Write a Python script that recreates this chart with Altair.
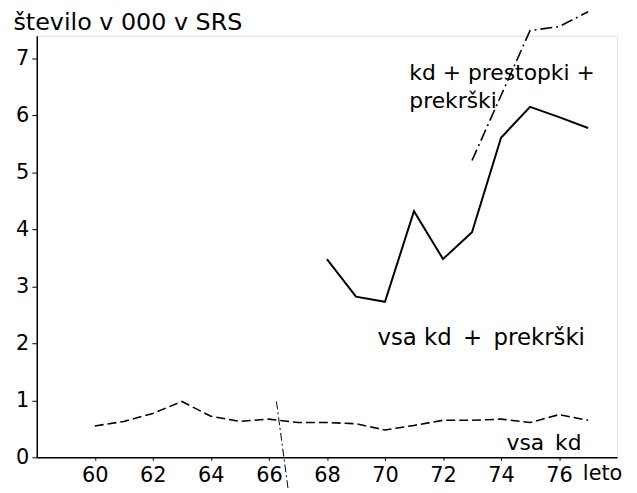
import altair as alt
import pandas as pd

# --- data ---
years_all = [60, 61, 62, 63, 64, 65, 66, 67, 68, 69, 70, 71, 72, 73, 74, 75, 76, 77]
vsa_kd = [0.55, 0.63, 0.77, 0.98, 0.72, 0.63, 0.67, 0.61, 0.61, 0.59, 0.48, 0.56,
          0.65, 0.65, 0.67, 0.61, 0.75, 0.65]

years_kdp = [68, 69, 70, 71, 72, 73, 74, 75, 76, 77]
vsa_kd_prekrski = [3.48, 2.82, 2.73, 4.32, 3.48, 3.95, 5.61, 6.15, 5.97, 5.78]

years_all3 = [73, 74, 75, 76, 77]
kd_prest_prekrski = [5.21, 6.35, 7.49, 7.56, 7.82]

# stray dash-dot stroke near 66 in the original
stroke_x = [66.26, 66.67]
stroke_y = [0.98, -0.59]

x_ticks = [60, 62, 64, 66, 68, 70, 72, 74, 76]
y_ticks = [0, 1, 2, 3, 4, 5, 6, 7]

labels_text = ["kd + prestopki +", "prekrški", "vsa kd\u2002+\u2002prekrški",
               "vsa\u2002kd", "leto"]
labels_x = [70.84, 70.84, 69.74, 74.19, 76.82]
labels_y = [6.62, 6.13, 1.97, 0.12, -0.40]
labels_size = [22, 22, 23, 22, 21]

FONT = "DejaVu Sans"

df1 = pd.DataFrame({"leto": years_all, "v": vsa_kd})
df2 = pd.DataFrame({"leto": years_kdp, "v": vsa_kd_prekrski})
df3 = pd.DataFrame({"leto": years_all3, "v": kd_prest_prekrski})
df4 = pd.DataFrame({"leto": stroke_x, "v": stroke_y})
dft = pd.DataFrame({"t": labels_text, "leto": labels_x, "v": labels_y,
                    "s": labels_size})

xscale = alt.Scale(domain=[58, 78], nice=False, zero=False)
yscale = alt.Scale(domain=[0, 7.4], nice=False)

xaxis = alt.Axis(values=x_ticks, title=None, grid=False, domainColor="black",
                 domainWidth=1.5, tickColor="black", tickSize=3, labelPadding=4,
                 labelFont=FONT, labelFontSize=21, labelColor="black")
yaxis = alt.Axis(values=y_ticks, format="d", title="število v 000 v SRS",
                 grid=False, domainColor="black", domainWidth=1.5,
                 tickColor="black", tickSize=5, labelPadding=3, labelFont=FONT,
                 labelFontSize=21, labelColor="black", titleAngle=0,
                 titleAlign="left", titleBaseline="alphabetic", titleX=-24,
                 titleY=-6, titleFont=FONT, titleFontSize=24,
                 titleFontWeight="normal", titleColor="black")

base_x = alt.X("leto:Q", scale=xscale, axis=xaxis)
base_y = alt.Y("v:Q", scale=yscale, axis=yaxis)

l1 = alt.Chart(df1).mark_line(color="black", strokeWidth=1.6,
                              strokeDash=[9, 4]).encode(x=base_x, y=base_y)
l2 = alt.Chart(df2).mark_line(color="black", strokeWidth=2).encode(
    x=alt.X("leto:Q", scale=xscale), y=alt.Y("v:Q", scale=yscale))
l3 = alt.Chart(df3).mark_line(color="black", strokeWidth=1.6,
                              strokeDash=[12, 4, 2, 4]).encode(
    x=alt.X("leto:Q", scale=xscale), y=alt.Y("v:Q", scale=yscale))
l4 = alt.Chart(df4).mark_line(color="black", strokeWidth=1,
                              strokeDash=[8, 3, 2, 3]).encode(
    x=alt.X("leto:Q", scale=xscale), y=alt.Y("v:Q", scale=yscale))
txt = alt.Chart(dft).mark_text(align="left", baseline="alphabetic", font=FONT,
                               color="black").encode(
    x=alt.X("leto:Q", scale=xscale), y=alt.Y("v:Q", scale=yscale), text="t:N",
    size=alt.Size("s:Q", scale=None, legend=None))

chart = alt.layer(l1, l2, l3, l4, txt).properties(
    width=585, height=425,
    autosize=alt.AutoSizeParams(type="none"),
    padding={"left": 29, "top": 26, "right": 12, "bottom": 30},
).configure_view(stroke=None).configure(background="white")

chart.save("out.html", embed_options={"renderer": "svg", "actions": False})
